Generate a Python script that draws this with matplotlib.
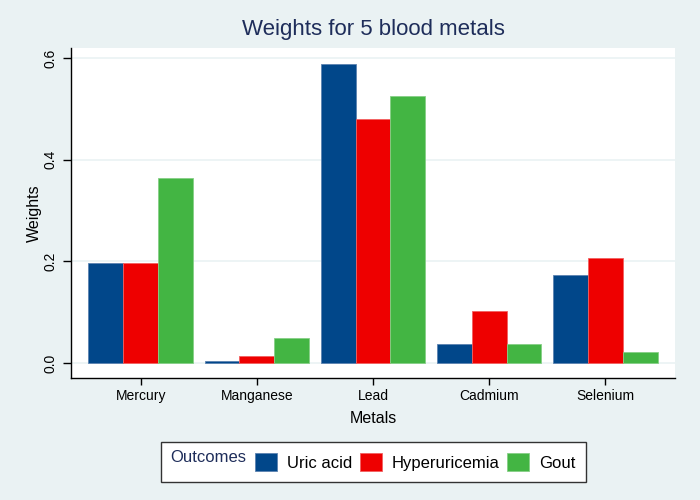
import matplotlib.pyplot as plt
import numpy as np
from matplotlib.patches import Rectangle

plt.rcParams['font.family'] = ['Liberation Sans', 'DejaVu Sans']

metals = ['Mercury', 'Manganese', 'Lead', 'Cadmium', 'Selenium']
outcomes = ['Uric acid', 'Hyperuricemia', 'Gout']
uric_acid = [0.196, 0.004, 0.588, 0.037, 0.173]
hyperuricemia = [0.196, 0.013, 0.480, 0.102, 0.206]
gout = [0.363, 0.049, 0.525, 0.037, 0.022]

colors = ['#01478A', '#EE0000', '#43B543']
edges = ['#5C82B0', '#F26060', '#86CF86']
bg = '#EAF2F3'
navy = '#1E2D5A'

fig = plt.figure(figsize=(7, 5), dpi=100, facecolor=bg)
ax = fig.add_axes([71/700, 1-378/500, (675-71)/700, (378-48)/500])
ax.set_facecolor('white')

x = np.arange(len(metals))
w = 0.3
series = [uric_acid, hyperuricemia, gout]
bars = []
for i, vals in enumerate(series):
    b = ax.bar(x + (i - 1) * w, vals, width=w, color=colors[i],
               edgecolor=edges[i], linewidth=0.6, label=outcomes[i], zorder=3)
    bars.append(b)

ax.set_xlim(-0.6, 4.6)
ax.set_ylim(-0.0294, 0.6196)
ax.set_yticks([0, 0.2, 0.4, 0.6])
ax.set_yticklabels(['0.0', '0.2', '0.4', '0.6'], rotation=90, va='center')
ax.set_xticks(x)
ax.set_xticklabels(metals)
ax.grid(axis='y', color=bg, linewidth=1.2, zorder=0)
ax.set_axisbelow(True)

for s in ['top', 'right']:
    ax.spines[s].set_visible(False)
for s in ['left', 'bottom']:
    ax.spines[s].set_linewidth(1.0)
ax.tick_params(axis='y', length=6, width=1, labelsize=10, pad=4)
ax.tick_params(axis='x', length=5, width=1, labelsize=10, pad=3)

ax.set_xlabel('Metals', fontsize=11.5, labelpad=6)
ax.set_ylabel('Weights', fontsize=11.5, labelpad=1)
fig.suptitle('Weights for 5 blood metals', fontsize=16, color=navy,
             x=373/700, y=1-30/500, va='center')

# legend box
box = Rectangle((161/700, 1-482/500), (586-161)/700, 40/500, transform=fig.transFigure,
                facecolor='white', edgecolor='#333333', linewidth=1.0)
fig.patches.append(box)
fig.text(170/700, 1-457/500, 'Outcomes', fontsize=12, color=navy, va='center')
fig.legend(handles=bars, labels=outcomes, ncol=3, loc='center left',
           bbox_to_anchor=(255/700, 1-462/500), frameon=False, fontsize=12,
           handlelength=1.32, handleheight=1.32, handletextpad=0.6,
           columnspacing=0.45, borderpad=0, borderaxespad=0)

plt.savefig('out.png', dpi=100, facecolor=bg)
